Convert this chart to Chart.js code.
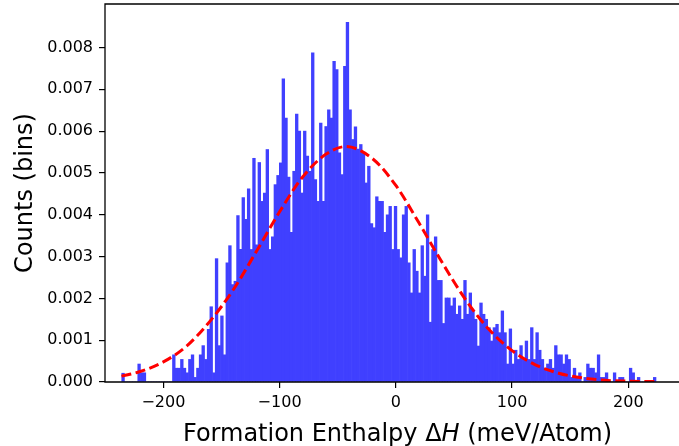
<!DOCTYPE html>
<html>
<head>
<meta charset="utf-8">
<script src="https://cdn.jsdelivr.net/npm/chart.js@4.4.1/dist/chart.umd.min.js"></script>
<style>
  html, body { margin: 0; padding: 0; background: #fff; }
  #wrap { width: 679px; height: 446px; }
</style>
</head>
<body>
<div id="wrap"><canvas id="grafico" width="679" height="446"></canvas></div>
<script>
// histogram bins (meV/Atom)
const binStart = -235.8;
const binWidth = 2.298;
// density per bin, in units of 1e-3
const densityE3 = [
  0.21, 0, 0, 0, 0, 0, 0.43, 0.22, 0.22, 0,
  0, 0, 0, 0, 0, 0, 0, 0, 0, 0.65,
  0.33, 0.33, 0.54, 0.33, 0.22, 0.54, 0.65, 0.11, 0.33, 0.65,
  0.87, 0.54, 1.26, 1.80, 0.22, 2.95, 0.87, 1.58, 0.65, 2.85,
  3.26, 2.33, 2.41, 3.98, 3.17, 4.41, 3.89, 4.62, 3.17, 5.35,
  3.28, 5.25, 4.32, 4.52, 5.56, 3.17, 3.47, 4.72, 4.94, 5.24,
  7.25, 6.31, 4.90, 3.58, 5.04, 6.41, 6.00, 4.52, 6.00, 5.40,
  5.04, 7.87, 4.84, 4.32, 6.19, 4.32, 6.11, 6.51, 6.31, 7.67,
  7.47, 5.48, 4.96, 7.55, 8.60, 6.51, 5.80, 6.10, 5.57, 5.68,
  5.48, 4.76, 5.16, 3.79, 3.69, 4.43, 4.32, 4.32, 3.58, 4.00,
  4.20, 3.17, 4.20, 3.17, 2.97, 4.00, 4.20, 2.85, 2.13, 3.17,
  2.65, 2.13, 3.26, 2.53, 4.00, 1.43, 3.17, 3.47, 2.43, 2.43,
  1.40, 2.01, 2.01, 1.82, 2.01, 1.62, 1.82, 1.50, 2.43, 1.62,
  2.13, 1.70, 1.50, 0.86, 1.89, 1.62, 1.50, 1.30, 0.98, 1.30,
  1.38, 1.18, 1.70, 1.18, 0.43, 1.27, 0.43, 0.76, 0.54, 0.87,
  0.54, 0.98, 0.54, 1.30, 0.54, 1.18, 0.76, 0.54, 0.33, 0.43,
  0.54, 0.33, 0.87, 0.65, 0.65, 0.43, 0.65, 0.54, 0.11, 0.33,
  0.11, 0.22, 0, 0.11, 0.43, 0.33, 0.33, 0.22, 0.65, 0.11,
  0.11, 0.22, 0, 0, 0.22, 0, 0.11, 0.11, 0, 0,
  0.33, 0.22, 0, 0.11, 0, 0, 0, 0, 0, 0.11
];

// normal fit curve
const fitX = [-236, -220, -200, -180, -160, -140, -120, -100, -80, -60, -43, -20, 0, 20, 40, 60, 80, 100, 120, 140, 160, 180, 200, 224];
const fitE3 = [0.14, 0.25, 0.48, 0.86, 1.45, 2.20, 3.12, 4.07, 4.91, 5.45, 5.63, 5.34, 4.70, 3.80, 2.85, 1.97, 1.26, 0.75, 0.41, 0.21, 0.10, 0.04, 0.02, 0.01];

const xTicks = [-200, -100, 0, 100, 200];
const yTicks = [0, 0.001, 0.002, 0.003, 0.004, 0.005, 0.006, 0.007, 0.008];

// x label pieces: plain, italic, plain
const tituloX = ['Formation Enthalpy \u0394', 'H', ' (meV/Atom)'];

const barras = densityE3.map((d, i) => ({ x: binStart + (i + 0.5) * binWidth, y: d / 1000 }));
const curva = fitX.map((x, i) => ({ x: x, y: fitE3[i] / 1000 }));

const fuente = 'DejaVu Sans';

// box lines drawn over the bars, like matplotlib spines
const marco = {
  id: 'marco',
  afterDatasetsDraw(chart) {
    const { ctx, chartArea } = chart;
    ctx.save();
    ctx.strokeStyle = '#000';
    ctx.lineWidth = 1.3;
    ctx.beginPath();
    ctx.moveTo(chartArea.right, chartArea.top);
    ctx.lineTo(chartArea.left, chartArea.top);
    ctx.lineTo(chartArea.left, chartArea.bottom);
    ctx.lineTo(chartArea.right, chartArea.bottom);
    ctx.stroke();
    ctx.restore();
  }
};

// x axis title with italic H; the axes run a little past the right edge of the canvas
const tituloEje = {
  id: 'tituloEje',
  afterDraw(chart) {
    const { ctx, chartArea } = chart;
    const fuentes = ['24px "' + fuente + '"', 'italic 24px "' + fuente + '"', '24px "' + fuente + '"'];
    ctx.save();
    let total = 0;
    const anchos = tituloX.map((t, i) => {
      ctx.font = fuentes[i];
      const w = ctx.measureText(t).width;
      total += w;
      return w;
    });
    const centro = (chartArea.left + 690) / 2;
    let x = centro - total / 2;
    ctx.fillStyle = '#000';
    ctx.textBaseline = 'middle';
    ctx.textAlign = 'left';
    tituloX.forEach((t, i) => {
      ctx.font = fuentes[i];
      ctx.fillText(t, x, 434.5);
      x += anchos[i];
    });
    ctx.restore();
  }
};

new Chart(document.getElementById('grafico').getContext('2d'), {
  type: 'bar',
  data: {
    datasets: [
      {
        type: 'line',
        data: curva,
        borderColor: '#ff0000',
        borderWidth: 3,
        borderDash: [10, 4.5],
        pointRadius: 0,
        cubicInterpolationMode: 'monotone',
        fill: false,
        order: 0
      },
      {
        type: 'bar',
        data: barras,
        backgroundColor: '#4040ff',
        borderWidth: 0,
        barPercentage: 1,
        categoryPercentage: 1,
        order: 1
      }
    ]
  },
  options: {
    responsive: false,
    animation: false,
    events: [],
    layout: { padding: { top: 4, right: 0, left: 0, bottom: 0 } },
    plugins: {
      legend: { display: false },
      tooltip: { enabled: false }
    },
    scales: {
      x: {
        type: 'linear',
        min: -250.2,
        max: 243.6,
        offset: false,
        afterBuildTicks: (s) => { s.ticks = xTicks.map(v => ({ value: v })); },
        afterFit: (s) => { s.height = 64; s.paddingLeft = 0; s.paddingRight = 0; },
        grid: { offset: false, drawOnChartArea: false, drawTicks: true, tickLength: 6, color: '#000', lineWidth: 1.2 },
        border: { display: false },
        ticks: {
          color: '#000',
          font: { family: fuente, size: 16 },
          padding: 5,
          maxRotation: 0,
          callback: (v) => (v < 0 ? '\u2212' + Math.abs(v) : String(v))
        },
        title: { display: false }
      },
      y: {
        min: 0,
        max: 0.00904,
        afterBuildTicks: (s) => { s.ticks = yTicks.map(v => ({ value: v })); },
        afterFit: (s) => { s.width = 105; s.paddingTop = 0; s.paddingBottom = 0; },
        grid: { drawOnChartArea: false, drawTicks: true, tickLength: 6, color: '#000', lineWidth: 1.2 },
        border: { display: false },
        ticks: {
          color: '#000',
          font: { family: fuente, size: 16 },
          padding: 6,
          callback: (v) => v.toFixed(3)
        },
        title: {
          display: true,
          text: 'Counts (bins)',
          color: '#000',
          font: { family: fuente, size: 24 },
          padding: { top: 11, bottom: 0 }
        }
      }
    }
  },
  plugins: [marco, tituloEje]
});
</script>
</body>
</html>
